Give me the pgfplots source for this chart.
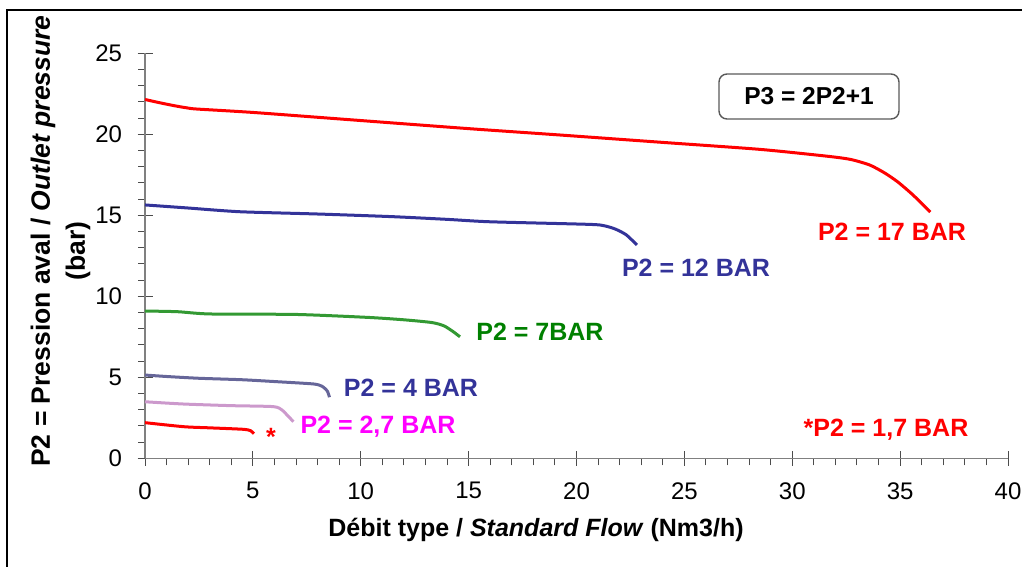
\documentclass[border=0pt]{standalone}
\usepackage{fontspec}
\setmainfont{Liberation Sans}
\usepackage{pgfplots}
\pgfplotsset{compat=1.18}

\definecolor{navy}{HTML}{333399}
\definecolor{slate}{HTML}{666699}
\definecolor{lgreen}{HTML}{339933}
\definecolor{dgreen}{HTML}{008000}
\definecolor{lilac}{HTML}{CC99CC}
\definecolor{pink}{HTML}{FF00FF}

\begin{document}
\begin{tikzpicture}[x=1pt,y=1pt]
\useasboundingbox (0,0) rectangle (1022,566);
% frame (only top and left edges are visible)
\draw[line width=2.5pt] (7,-2) -- (7,556) -- (1024,556);

\begin{axis}[
  at={(145pt,107.7pt)}, anchor=south west,
  width=863pt, height=405pt, scale only axis,
  xmin=0, xmax=40, ymin=0, ymax=25,
  xtick={0,5,...,40}, ytick={0,5,...,25},
  minor tick num=4,
  axis x line=bottom, axis y line=left,
  axis line style={-, gray, line width=1.3pt},
  tick align=center,
  major tick length=15pt, minor tick length=7pt,
  tick style={black!70, line width=1pt},
  minor x tick style={yshift=-3.5pt},
  minor y tick style={xshift=-3.5pt},
  tick label style={font=\fontsize{24}{28}\selectfont},
  xticklabel style={yshift=-13pt},
  yticklabel style={xshift=-12pt},
  /pgf/number format/assume math mode=true,
  clip=false,
  every axis plot/.append style={smooth, tension=0.4, line width=3pt},
]
% P2 = 17 bar
\addplot[red] coordinates {
 (0,22.15) (0.5,22.0) (1,21.86) (1.5,21.73) (2,21.62) (2.4,21.56)
 (5,21.35) (9,20.95) (15,20.35) (19.2,19.96) (24,19.5) (28.5,19.07)
 (31.6,18.65) (32.7,18.45) (33.6,18.1) (34.3,17.6) (34.9,17.05)
 (35.6,16.25) (36.4,15.2)};
% P2 = 12 bar
\addplot[navy] coordinates {
 (0,15.64) (2,15.45) (4.4,15.22) (8,15.08) (11.4,14.92) (14,14.75)
 (16,14.6) (20.6,14.44) (21.3,14.35) (21.8,14.15) (22.3,13.8) (22.8,13.17)};
% P2 = 7 bar
\addplot[lgreen] coordinates {
 (0,9.09) (1.5,9.05) (3,8.91) (7,8.88) (10.3,8.7) (12,8.55)
 (13.3,8.38) (13.85,8.18) (14.25,7.85) (14.6,7.5)};
% P2 = 4 bar
\addplot[slate] coordinates {
 (0,5.14) (1,5.05) (2.5,4.94) (4.5,4.85) (6.1,4.73) (7.8,4.59)
 (8.2,4.45) (8.45,4.15) (8.55,3.77)};
% P2 = 2,7 bar
\addplot[lilac] coordinates {
 (0,3.49) (1.8,3.35) (4,3.25) (5.95,3.19) (6.35,2.98) (6.6,2.65) (6.88,2.26)};
% P2 = 1,7 bar
\addplot[red] coordinates {
 (0,2.2) (1.8,1.95) (3,1.88) (4.56,1.79) (4.9,1.7) (5.05,1.52)};
\end{axis}

% axis titles
\begin{scope}[font=\fontsize{26.5}{32}\selectfont\bfseries]
\node[rotate=90] at (43,325) {P2 = Pression aval / \textit{Outlet pressure}};
\node[rotate=90] at (78,315) {(bar)};
\end{scope}
\node[font=\fontsize{25}{30}\selectfont\bfseries] at (536,36)
  {Débit type / \textit{Standard Flow} (Nm3/h)};

% formula box
\draw[rounded corners=8pt, draw=black!65, line width=1.4pt] (719,447) rectangle (899,492);
\node[font=\fontsize{24.5}{29}\selectfont\bfseries] at (809,469.5) {P3 = 2P2+1};

% curve labels
\begin{scope}[font=\fontsize{25}{30}\selectfont\bfseries]
\node[red] at (892,334) {P2 = 17 BAR};
\node[navy] at (696,298) {P2 = 12 BAR};
\node[dgreen] at (540,234) {P2 = 7BAR};
\node[navy] at (411,178) {P2 = 4 BAR};
\node[pink] at (378,139) {P2 = 2,7 BAR};
\node[red] at (886,136) {*P2 = 1,7 BAR};
\node[red] at (271,129) {*};
\end{scope}
\end{tikzpicture}
\end{document}
